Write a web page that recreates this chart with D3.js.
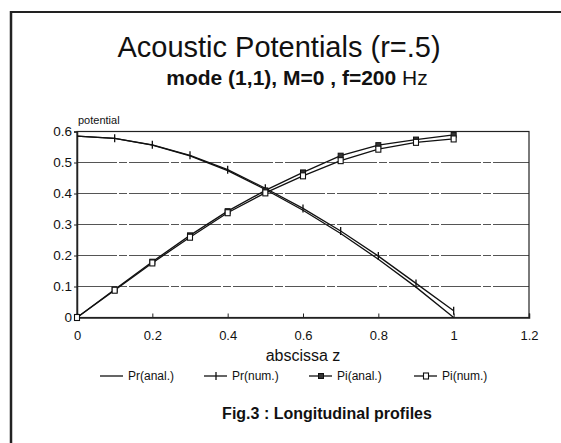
<!DOCTYPE html>
<html><head><meta charset="utf-8">
<script src="https://cdn.jsdelivr.net/npm/d3@7"></script>
<style>body{margin:0;background:#fff}svg{display:block;font-family:"Liberation Sans",Arial,sans-serif}</style>
</head><body>
<svg id="c" width="561" height="443"></svg>
<script>
const zValues = [0,0.1,0.2,0.3,0.4,0.5,0.6,0.7,0.8,0.9,1.0];
const prAnal = [0.585,0.578,0.556,0.521,0.474,0.413,0.346,0.271,0.188,0.098,0.0];
const prNum  = [0.585,0.578,0.557,0.523,0.477,0.417,0.352,0.279,0.198,0.110,0.022];
const piAnal = [0,0.090,0.180,0.265,0.343,0.410,0.468,0.522,0.556,0.574,0.589];
const piNum  = [0,0.088,0.176,0.259,0.338,0.402,0.457,0.506,0.543,0.565,0.576];
const xTicks = [0,0.2,0.4,0.6,0.8,1,1.2];
const xTickLabels = ["0","0.2","0.4","0.6","0.8","1","1.2"];
const yTicks = [0,0.1,0.2,0.3,0.4,0.5,0.6];
const yTickLabels = ["0","0.1","0.2","0.3","0.4","0.5","0.6"];
const seriesNames = ["Pr(anal.)","Pr(num.)","Pi(anal.)","Pi(num.)"];
const markers = ["none","plus","square","circle"];

const svg = d3.select("#c");
const x = d3.scaleLinear().domain([0,1.2]).range([77,529]);
const y = d3.scaleLinear().domain([0,0.6]).range([317.5,131.5]);

// page frame
svg.append("line").attr("x1",11).attr("x2",561).attr("y1",12).attr("y2",12).attr("stroke","#222").attr("stroke-width",2);
svg.append("line").attr("x1",11).attr("x2",11).attr("y1",11).attr("y2",443).attr("stroke","#222").attr("stroke-width",2.5);

// titles
svg.append("text").attr("x",279).attr("y",57).attr("text-anchor","middle").attr("font-size",29).attr("fill","#111").text("Acoustic Potentials (r=.5)");
const sub = svg.append("text").attr("x",297).attr("y",85).attr("text-anchor","middle").attr("font-size",21).attr("fill","#111");
sub.append("tspan").attr("font-weight","bold").text("mode (1,1), M=0 , f=200 ");
sub.append("tspan").attr("font-weight","normal").text("Hz");

// gridlines
svg.append("g").selectAll("line").data(yTicks.slice(1,6)).join("line")
  .attr("x1",x(0)).attr("x2",x(1.2)).attr("y1",d=>y(d)).attr("y2",d=>y(d))
  .attr("stroke","#555").attr("stroke-width",1).attr("stroke-dasharray","40,2,8,2");

// frame
svg.append("rect").attr("x",x(0)).attr("y",y(0.6)).attr("width",x(1.2)-x(0)).attr("height",y(0)-y(0.6))
  .attr("fill","none").attr("stroke","#222").attr("stroke-width",1.2);

// axes
const xAxis = d3.axisBottom(x).tickValues(xTicks).tickFormat((d,i)=>xTickLabels[i]).tickSize(-4).tickPadding(13);
const gx = svg.append("g").attr("transform",`translate(0,${y(0)})`).call(xAxis);
gx.select(".domain").attr("stroke","#222").attr("stroke-width",1.5);
gx.selectAll("text").attr("font-size",13).attr("font-family","Liberation Sans, Arial").attr("fill","#111");
gx.selectAll(".tick line").attr("stroke","#222");

const yAxis = d3.axisLeft(y).tickValues(yTicks).tickFormat((d,i)=>yTickLabels[i]).tickSize(3).tickPadding(2);
const gy = svg.append("g").attr("transform",`translate(${x(0)},0)`).call(yAxis);
gy.select(".domain").attr("stroke","#222").attr("stroke-width",1.5);
gy.selectAll("text").attr("font-size",13.5).attr("font-family","Liberation Sans, Arial").attr("fill","#111");
gy.selectAll(".tick line").attr("stroke","#222");

svg.append("text").attr("x",78).attr("y",124).attr("font-size",11).attr("fill","#111").text("potential");
svg.append("text").attr("x",303).attr("y",361).attr("text-anchor","middle").attr("font-size",16).attr("fill","#111").text("abscissa z");

// series
const allSeries = [prAnal,prNum,piAnal,piNum];
const line = d3.line().x((d,i)=>x(zValues[i])).y(d=>y(d));
function drawMarker(g,type,cx,cy){
  if(type==="plus"){
    g.append("line").attr("x1",cx).attr("x2",cx).attr("y1",cy-4).attr("y2",cy+4).attr("stroke","#111").attr("stroke-width",1.3);
  } else if(type==="square"){
    g.append("rect").attr("x",cx-2.5).attr("y",cy-2.5).attr("width",5).attr("height",5).attr("fill","#333").attr("stroke","#111");
  } else if(type==="circle"){
    g.append("rect").attr("x",cx-2.5).attr("y",cy-3).attr("width",5).attr("height",6).attr("fill","#fff").attr("stroke","#111").attr("stroke-width",1.1);
  }
}
allSeries.forEach((s,k)=>{
  const g = svg.append("g");
  g.append("path").attr("d",line(s)).attr("fill","none").attr("stroke","#111").attr("stroke-width",1.3);
  s.forEach((v,i)=>{ if(i>0||markers[k]!=="plus") drawMarker(g,markers[k],x(zValues[i]),y(v)); });
});

// legend
const legX = [100,204,309,414];
const lg = svg.append("g");
seriesNames.forEach((n,k)=>{
  lg.append("line").attr("x1",legX[k]).attr("x2",legX[k]+23).attr("y1",376).attr("y2",376).attr("stroke","#111").attr("stroke-width",1.3);
  drawMarker(lg,markers[k],legX[k]+12,376);
  lg.append("text").attr("x",legX[k]+28).attr("y",380).attr("font-size",12).attr("fill","#111").text(n);
});

svg.append("text").attr("x",327).attr("y",419).attr("text-anchor","middle").attr("font-size",16).attr("font-weight","bold").attr("fill","#111").text("Fig.3 : Longitudinal profiles");
</script>
</body></html>
